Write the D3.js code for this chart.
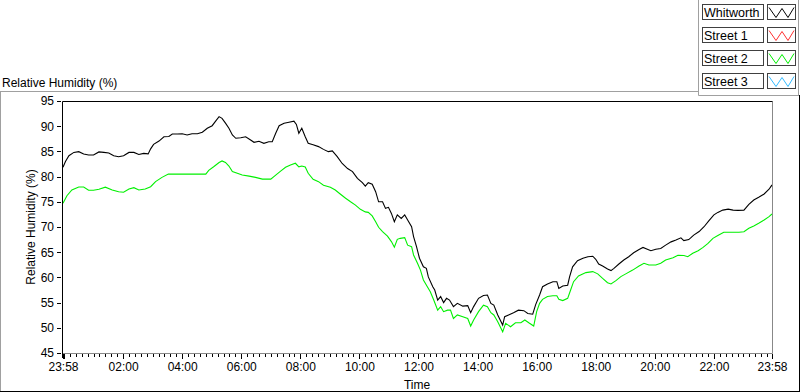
<!DOCTYPE html>
<html>
<head>
<meta charset="utf-8">
<script src="https://cdn.jsdelivr.net/npm/d3@7"></script>
<style>
html,body{margin:0;padding:0;background:#fff;}
svg{display:block;}
text{font-family:"Liberation Sans",Arial,sans-serif;fill:#000;}
</style>
</head>
<body>
<svg id="chart" width="800" height="392"></svg>
<script>
// ---- data (minutes since 23:58 of previous day, relative humidity %) ----
const seriesNames = ["Whitworth", "Street 1", "Street 2", "Street 3"];
const whitworthTime = [0,5,12,22,32,42,52,62,73,83,93,103,113,123,134,144,154,164,173,178,184,195,205,215,222,232,242,252,262,273,283,293,303,310,317,323,330,337,344,351,361,371,381,388,398,408,418,425,432,439,449,459,469,474,479,485,492,498,508,519,529,539,547,557,567,578,588,598,608,614,620,628,635,641,649,655,661,667,673,679,687,694,700,708,712,718,724,732,738,742,751,755,761,767,773,779,785,793,801,812,822,828,834,844,854,862,869,875,883,893,897,905,915,925,936,944,954,960,968,974,984,995,1003,1007,1015,1025,1029,1035,1045,1056,1066,1076,1082,1088,1096,1106,1113,1119,1129,1139,1149,1159,1170,1178,1188,1194,1204,1214,1224,1235,1245,1255,1261,1271,1281,1292,1302,1312,1322,1330,1340,1351,1361,1371,1383,1393,1403,1413,1424,1434,1440];
const whitworthRH = [81.85,83.0,84.15,84.8,84.95,84.5,84.3,84.3,84.9,84.8,84.7,84.15,83.95,84.15,84.8,84.8,84.4,84.6,84.5,85.5,86.4,87.05,87.9,87.95,88.45,88.45,88.5,88.25,88.5,88.5,88.8,89.6,90.1,91.0,91.9,91.55,90.6,89.6,88.25,87.6,87.7,87.9,87.25,86.8,87.0,86.6,86.9,86.9,88.6,90.1,90.6,90.8,91.0,90.35,88.6,89.6,87.9,86.6,86.3,85.95,85.4,84.95,85.1,83.95,82.6,81.6,81.0,79.65,78.8,78.1,78.8,78.5,77.0,75.0,75.0,73.7,73.9,72.7,71.05,72.4,71.7,72.4,71.4,70.05,68.1,66.1,63.8,62.1,61.8,60.1,58.15,57.5,55.5,56.2,55.0,55.85,55.5,54.2,54.85,54.3,54.4,53.0,54.2,55.85,56.4,56.5,54.85,54.5,52.55,50.55,52.2,52.55,53.0,53.5,53.4,52.85,52.7,54.6,56.5,58.15,58.7,59.15,59.15,57.8,58.3,58.45,60.15,62.1,63.3,63.8,64.1,64.2,63.6,62.65,62.25,61.65,61.35,61.8,62.65,63.45,64.1,64.9,65.55,65.95,65.55,65.3,65.6,65.75,66.4,67.05,67.4,67.85,67.3,67.5,68.4,69.1,70.05,71.25,72.4,72.9,73.35,73.55,73.35,73.3,73.35,74.5,75.35,75.9,76.55,77.5,78.35];
const street1Time = [];
const street1RH = [];
const street2Time = [0,8,18,32,42,52,62,73,86,100,113,123,134,144,154,167,178,188,201,214,225,242,269,290,296,306,317,323,330,337,344,354,364,378,391,405,422,432,442,452,462,472,479,485,492,498,508,519,529,543,553,563,574,584,594,604,614,620,628,635,641,649,659,667,673,679,685,694,700,708,712,720,726,732,740,746,753,761,767,773,781,787,793,801,812,822,828,834,844,854,862,869,875,883,893,899,909,919,930,938,946,956,962,968,974,984,995,1003,1007,1015,1025,1031,1037,1047,1062,1076,1086,1096,1106,1113,1123,1133,1143,1157,1170,1180,1190,1204,1214,1224,1239,1249,1261,1269,1279,1290,1300,1310,1320,1330,1342,1357,1373,1383,1393,1403,1413,1424,1434,1440];
const street2RH = [74.7,76.2,77.35,77.95,77.95,77.3,77.3,77.5,77.9,77.35,77.0,76.9,77.55,77.8,77.35,77.55,78.0,79.0,79.85,80.5,80.5,80.5,80.5,80.5,81.25,81.95,82.8,83.1,82.8,82.1,81.0,80.65,80.3,80.1,79.85,79.5,79.5,80.3,81.1,81.85,82.3,82.65,81.95,82.1,81.9,80.65,79.45,79.0,78.3,77.9,77.35,76.55,75.7,75.0,74.35,73.5,73.0,72.9,72.2,71.05,69.95,69.1,68.2,67.1,66.0,67.55,67.75,67.9,66.4,66.1,64.45,62.8,61.45,59.5,58.15,57.15,55.5,53.5,54.2,53.2,53.5,53.5,51.85,52.55,52.2,51.85,50.35,51.55,53.2,54.5,54.2,53.0,52.55,51.2,49.2,50.9,50.2,51.0,51.0,51.55,51.0,50.35,53.2,54.85,55.65,56.2,56.35,56.35,55.65,55.4,55.85,57.5,59.15,60.3,60.95,61.15,60.7,59.8,58.95,58.7,59.35,60.15,60.7,61.45,62.25,62.8,62.45,62.45,62.8,63.45,63.9,64.4,64.35,64.1,64.8,65.3,65.95,66.75,67.75,68.3,68.95,68.95,68.95,69.05,69.75,70.2,70.75,71.4,72.05,72.6];
const street3Time = [];
const street3RH = [];
const xTickMinutes = [0,122,242,362,482,602,722,842,962,1082,1202,1322,1440];
const xTickLabels = ["23:58","02:00","04:00","06:00","08:00","10:00","12:00","14:00","16:00","18:00","20:00","22:00","23:58"];
const yTicks = [45,50,55,60,65,70,75,80,85,90,95];

// ---- styles ----
const colors = ["#000000", "#ff3030", "#00f000", "#33bbff"];
const seriesData = [
  [whitworthTime, whitworthRH],
  [street1Time, street1RH],
  [street2Time, street2RH],
  [street3Time, street3RH]
];

const svg = d3.select("#chart");
svg.append("rect").attr("width", 800).attr("height", 392).attr("fill", "#fff");

const L = 62.5, R = 772.5, T = 101.5, B = 353.5;
const x = d3.scaleLinear().domain([0, 1440]).range([63, 772]);
const y = d3.scaleLinear().domain([45, 95]).range([353, 101]);

// outer frame
svg.append("line").attr("x1", 0).attr("x2", 698).attr("y1", 91.5).attr("y2", 91.5).attr("stroke", "#a0a0a0");
svg.append("line").attr("x1", 0.5).attr("x2", 0.5).attr("y1", 91.5).attr("y2", 392).attr("stroke", "#a0a0a0");
svg.append("line").attr("x1", 0).attr("x2", 800).attr("y1", 391.5).attr("y2", 391.5).attr("stroke", "#000");
svg.append("line").attr("x1", 799.5).attr("x2", 799.5).attr("y1", 95).attr("y2", 392).attr("stroke", "#000");

// title
svg.append("text").attr("x", 2).attr("y", 87).attr("font-size", 12).text("Relative Humidity (%)");

// plot area clip
svg.append("clipPath").attr("id", "clip").append("rect")
  .attr("x", 63).attr("y", 102).attr("width", 709).attr("height", 251);

// plot frame
svg.append("line").attr("x1", R).attr("x2", R).attr("y1", T).attr("y2", B).attr("stroke", "#888");
svg.append("line").attr("x1", L).attr("x2", R).attr("y1", B).attr("y2", B).attr("stroke", "#888");
svg.append("line").attr("x1", L).attr("x2", R).attr("y1", T).attr("y2", T).attr("stroke", "#000");
svg.append("line").attr("x1", L).attr("x2", L).attr("y1", T).attr("y2", 358).attr("stroke", "#000");

// x axis: minor ticks
const minorAxis = d3.axisBottom(x).tickValues(d3.range(2, 1440, 12)).tickSize(3).tickFormat("");
const gMinor = svg.append("g").attr("transform", "translate(0,354)").call(minorAxis);
gMinor.select(".domain").remove();
gMinor.selectAll("line").attr("stroke", "#000").attr("shape-rendering", "crispEdges");

// x axis: major ticks
const majorAxis = d3.axisBottom(x).tickValues(xTickMinutes).tickSize(5)
  .tickFormat((d, i) => xTickLabels[i]).tickPadding(3);
const gX = svg.append("g").attr("transform", "translate(0,354)").call(majorAxis);
gX.select(".domain").remove();
gX.selectAll("line").attr("stroke", "#000").attr("shape-rendering", "crispEdges");
gX.selectAll("text").attr("font-size", 12).attr("font-family", "Liberation Sans, Arial, sans-serif").attr("fill", "#000");
gX.select(".tick line").attr("stroke-width", 2);

svg.append("text").attr("x", 417).attr("y", 389).attr("text-anchor", "middle").attr("font-size", 12).text("Time");

// y axis
const yAxis = d3.axisLeft(y).tickValues(yTicks).tickSize(4).tickPadding(3);
const gY = svg.append("g").attr("transform", "translate(61,0)").call(yAxis);
gY.select(".domain").remove();
gY.selectAll("line").attr("stroke", "#000").attr("shape-rendering", "crispEdges");
gY.selectAll("text").attr("font-size", 12).attr("font-family", "Liberation Sans, Arial, sans-serif").attr("fill", "#000");

svg.append("text").attr("transform", "translate(35,227) rotate(-90)")
  .attr("text-anchor", "middle").attr("font-size", 12).text("Relative Humidity (%)");

// lines
const line = d3.line().x(d => x(d[0])).y(d => y(d[1]));
const gLines = svg.append("g").attr("clip-path", "url(#clip)");
[2, 0].forEach(i => {
  const [ts, vs] = seriesData[i];
  if (!ts.length) return;
  const pts = ts.map((t, k) => [t, vs[k]]);
  gLines.append("path").attr("d", line(pts)).attr("fill", "none")
    .attr("stroke", colors[i]).attr("stroke-width", 1.1);
});

// legend
const lg = svg.append("g");
lg.append("line").attr("x1", 698.5).attr("x2", 698.5).attr("y1", 0).attr("y2", 95.5).attr("stroke", "#a0a0a0");
lg.append("line").attr("x1", 698.5).attr("x2", 799).attr("y1", 95.5).attr("y2", 95.5).attr("stroke", "#a0a0a0");
lg.append("line").attr("x1", 798.5).attr("x2", 798.5).attr("y1", 0).attr("y2", 95.5).attr("stroke", "#a0a0a0");
const symbolShape = [[2, 3], [9, 13], [15, 4], [21, 13], [27, 3]];
const symLine = d3.line().x(d => d[0]).y(d => d[1]);
seriesNames.forEach((name, i) => {
  const top = 4.5 + i * 23;
  const g = lg.append("g");
  g.append("rect").attr("x", 702.5).attr("y", top).attr("width", 61).attr("height", 15)
    .attr("fill", "#fff").attr("stroke", "#404040");
  g.append("text").attr("x", 704).attr("y", top + 12).attr("font-size", 12.5).text(name);
  g.append("rect").attr("x", 767.5).attr("y", top).attr("width", 28).attr("height", 15)
    .attr("fill", "#fff").attr("stroke", "#404040");
  g.append("path").attr("transform", `translate(767,${top})`).attr("d", symLine(symbolShape))
    .attr("fill", "none").attr("stroke", colors[i]).attr("stroke-width", 1);
});
</script>
</body>
</html>
